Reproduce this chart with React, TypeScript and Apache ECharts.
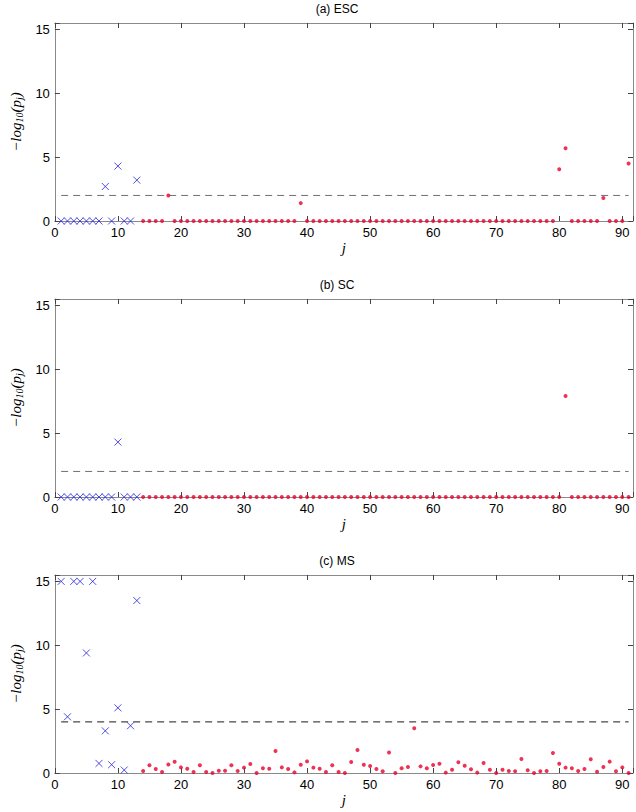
import React, { useEffect, useRef } from "react";
import * as echarts from "echarts";

const panelTitles = ["(a) ESC", "(b) SC", "(c) MS"];
const thresholds = [2, 2, 4];

const blueJ = [1, 2, 3, 4, 5, 6, 7, 8, 9, 10, 11, 12, 13];
const redJ = [
  14, 15, 16, 17, 18, 19, 20, 21, 22, 23, 24, 25, 26, 27, 28, 29, 30, 31, 32, 33,
  34, 35, 36, 37, 38, 39, 40, 41, 42, 43, 44, 45, 46, 47, 48, 49, 50, 51, 52, 53,
  54, 55, 56, 57, 58, 59, 60, 61, 62, 63, 64, 65, 66, 67, 68, 69, 70, 71, 72, 73,
  74, 75, 76, 77, 78, 79, 80, 81, 82, 83, 84, 85, 86, 87, 88, 89, 90, 91,
];

const escBlue = [0, 0, 0, 0, 0, 0, 0, 2.7, 0, 4.3, 0, 0, 3.2];
const escRed = [
  0, 0, 0, 0, 2.0, 0, 0, 0, 0, 0, 0, 0, 0, 0, 0, 0, 0, 0, 0, 0,
  0, 0, 0, 0, 0, 1.4, 0, 0, 0, 0, 0, 0, 0, 0, 0, 0, 0, 0, 0, 0,
  0, 0, 0, 0, 0, 0, 0, 0, 0, 0, 0, 0, 0, 0, 0, 0, 0, 0, 0, 0,
  0, 0, 0, 0, 0, 0, 4.05, 5.7, 0, 0, 0, 0, 0, 1.8, 0, 0, 0, 4.5,
];

const scBlue = [0, 0, 0, 0, 0, 0, 0, 0, 0, 4.3, 0, 0, 0];
const scRed = [
  0, 0, 0, 0, 0, 0, 0, 0, 0, 0, 0, 0, 0, 0, 0, 0, 0, 0, 0, 0,
  0, 0, 0, 0, 0, 0, 0, 0, 0, 0, 0, 0, 0, 0, 0, 0, 0, 0, 0, 0,
  0, 0, 0, 0, 0, 0, 0, 0, 0, 0, 0, 0, 0, 0, 0, 0, 0, 0, 0, 0,
  0, 0, 0, 0, 0, 0, 0, 7.9, 0, 0, 0, 0, 0, 0, 0, 0, 0, 0,
];

const msBlue = [15, 4.4, 15, 15, 9.4, 15, 0.75, 3.3, 0.65, 5.1, 0.23, 3.7, 13.5];
const msRed = [
  0.15, 0.6, 0.31, 0.08, 0.67, 0.88, 0.44, 0.34, 0.08, 0.6, 0.08,
  0.0, 0.17, 0.18, 0.6, 0.15, 0.42, 0.7, 0.0, 0.37, 0.34,
  1.72, 0.44, 0.31, 0.05, 0.65, 0.91, 0.42, 0.34, 0.08, 0.6,
  0.08, 0.0, 0.86, 1.8, 0.65, 0.55, 0.31, 0.13, 1.6, 0.0,
  0.37, 0.47, 3.5, 0.52, 0.37, 0.63, 0.73, 0.03, 0.26, 0.84,
  0.57, 0.29, 0.03, 0.78, 0.26, 0.0, 0.26, 0.16, 0.13, 1.1,
  0.21, 0.0, 0.13, 0.16, 1.57, 0.73, 0.42, 0.37, 0.16, 0.31,
  1.07, 0.1, 0.47, 0.89, 0.13, 0.44, 0.0,
];

const blueSets = [escBlue, scBlue, msBlue];
const redSets = [escRed, scRed, msRed];

const X_MIN = 0;
const X_MAX = 91.7;
const X_STEP = 10;
const Y_MIN = 0;
const Y_MAX = 15.5;
const Y_STEP = 5;
const threshFrom = 1;
const threshTo = 91;

const SANS = "'Liberation Sans', Arial, Helvetica, sans-serif";
const SERIF = "'Liberation Serif', 'DejaVu Serif', 'Times New Roman', serif";

const tops = [23, 299, 575];
const gridLeft = 40;
const gridW = 594;
const gridH = 198;

export default function App() {
  const ref = useRef<HTMLDivElement>(null);
  useEffect(() => {
    if (!ref.current) return;
    const chart = echarts.init(ref.current, undefined, { renderer: "svg" });
    const boxColor = "#8a8a8a";
    const tickColor = "#444";

    const grids = tops.map((t) => ({
      left: gridLeft,
      top: t,
      width: gridW,
      height: gridH,
      show: false,
      containLabel: false,
    }));

    const xAxes: any[] = [];
    const yAxes: any[] = [];
    tops.forEach((_, i) => {
      const common = {
        gridIndex: i,
        type: "value",
        min: X_MIN,
        max: X_MAX,
        interval: X_STEP,
        splitLine: { show: false },
        axisLine: { show: true, onZero: false, lineStyle: { color: boxColor, width: 1 } },
        axisTick: { show: true, inside: true, length: 5, lineStyle: { color: tickColor } },
      };
      xAxes.push({
        ...common,
        position: "bottom",
        axisLabel: {
          color: "#000",
          fontSize: 13,
          fontFamily: SANS,
          margin: 5,
          formatter: (v: number) => (Math.abs(v % 10) < 1e-9 ? String(v) : ""),
        },
        name: "j",
        nameLocation: "middle",
        nameGap: 19,
        nameTextStyle: { fontFamily: SERIF, fontStyle: "italic", fontSize: 15, color: "#000" },
      });
      xAxes.push({
        ...common,
        position: "top",
        axisLabel: { show: false },
      });
      const ycommon = {
        gridIndex: i,
        type: "value",
        min: Y_MIN,
        max: Y_MAX,
        interval: Y_STEP,
        splitLine: { show: false },
        axisLine: { show: true, onZero: false, lineStyle: { color: boxColor, width: 1 } },
        axisTick: { show: true, inside: true, length: 5, lineStyle: { color: tickColor } },
      };
      yAxes.push({
        ...ycommon,
        position: "left",
        axisLabel: {
          color: "#000",
          fontSize: 13,
          fontFamily: SANS,
          margin: 5,
          formatter: (v: number) => (Math.abs(v % 5) < 1e-9 ? String(v) : ""),
        },
        name: "{i|\u2212log}{s|10}{i|(p}{s|j}{i|)}",
        nameLocation: "middle",
        nameGap: 26,
        nameRotate: 90,
        nameTextStyle: {
          color: "#000",
          rich: {
            i: { fontFamily: SERIF, fontStyle: "italic", fontSize: 15, lineHeight: 18, color: "#000" },
            s: {
              fontFamily: SERIF,
              fontStyle: "italic",
              fontSize: 10,
              lineHeight: 8,
              verticalAlign: "bottom",
              color: "#000",
            },
          },
        },
      });
      yAxes.push({
        ...ycommon,
        position: "right",
        axisLabel: { show: false },
      });
    });

    const series: any[] = [];
    tops.forEach((_, i) => {
      series.push({
        type: "line",
        xAxisIndex: i * 2,
        yAxisIndex: i * 2,
        data: [
          [threshFrom, thresholds[i]],
          [threshTo, thresholds[i]],
        ],
        symbol: "none",
        silent: true,
        lineStyle: { color: i === 2 ? "#1a1a1a" : "#707070", width: 1, type: [7, 5] },
        z: 1,
      });
      series.push({
        type: "scatter",
        xAxisIndex: i * 2,
        yAxisIndex: i * 2,
        data: blueJ.map((j, k) => [j, blueSets[i][k]]),
        symbol: "path://M0,0L10,10M10,0L0,10",
        symbolSize: 7,
        itemStyle: { color: "rgba(0,0,0,0)", borderColor: "#2424d8", borderWidth: 1 },
        silent: true,
        z: 3,
      });
      series.push({
        type: "scatter",
        xAxisIndex: i * 2,
        yAxisIndex: i * 2,
        data: redJ.map((j, k) => [j, redSets[i][k]]),
        symbol: "circle",
        symbolSize: 4,
        itemStyle: { color: "#e8002a" },
        silent: true,
        z: 3,
      });
    });

    const graphics = tops.map((t, i) => ({
      type: "text",
      x: gridLeft + gridW / 2,
      y: t - 14,
      style: {
        text: panelTitles[i],
        align: "center",
        verticalAlign: "middle",
        fontSize: 12,
        fontFamily: SANS,
        fill: "#000",
      },
    }));

    chart.setOption({
      animation: false,
      backgroundColor: "#fff",
      grid: grids,
      xAxis: xAxes,
      yAxis: yAxes,
      series,
      graphic: graphics,
    });
    return () => chart.dispose();
  }, []);
  return (
    <div
      ref={ref}
      style={{ position: "absolute", left: 0, top: 0, width: 636, height: 812 }}
    />
  );
}
